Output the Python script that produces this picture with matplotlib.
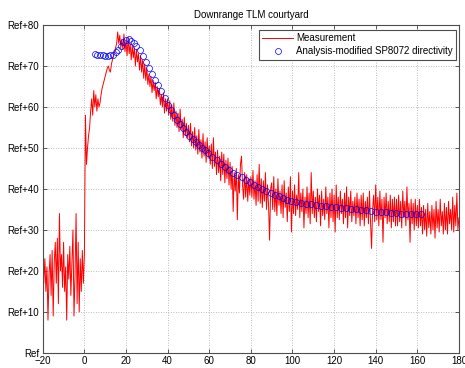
import numpy as np
import matplotlib
matplotlib.use("Agg")
import matplotlib.pyplot as plt

plt.rcParams["font.family"] = ["Liberation Sans", "DejaVu Sans"]

# ── Measurement (downrange, level above Ref), sampled every 0.5 ──────────────
meas_x0 = -20.0
meas_dx = 0.5
meas_y = [
    # -20 .. -10.5
    22, 17, 23, 15, 21, 8, 19, 24, 14, 25, 9, 22, 27, 17, 28, 12, 34, 20, 24, 16,
    # -10 .. -0.5
    27, 15, 21, 8, 24, 18, 26, 14, 22, 30, 9, 19, 34, 12, 27, 10, 23, 15, 25, 17,
    # 0 .. 9.5
    24, 58, 46, 50, 53, 55, 59, 62, 58, 64, 60, 63, 59, 62, 60, 61, 63, 64.5, 65.5, 66.5,
    # 10 .. 19.5
    67.5, 68.5, 69.5, 70, 69, 68.5, 70.5, 71.5, 72.5, 73.5,
    74.5, 75.5, 78.3, 75.5, 77.5, 74.5, 76.5, 74, 77.8, 73.5,
    # 20 .. 29.5
    76, 72.5, 77, 73, 75.5, 71.5, 75, 72, 74.5, 70,
    74, 71, 73, 69, 72.5, 68.5, 71.5, 67, 70.5, 66.5,
    # 30 .. 39.5
    69.5, 65.5, 68, 65, 67.5, 63.5, 66.5, 64, 66, 62,
    65, 62.5, 64.5, 60.5, 63, 60, 63.5, 58.5, 62, 59,
    # 40 .. 49.5
    62, 58, 61.5, 57, 60.5, 56.5, 61, 55.5, 59, 55,
    58.5, 54, 59.5, 54.5, 57, 52.5, 57.5, 53, 56, 52.5,
    # 50 .. 59.5
    55.5, 51.5, 56, 50.5, 54, 50, 55, 49.5, 53, 48.5,
    54.5, 49, 52, 47.5, 53.5, 48, 51.5, 46.5, 52.5, 47.5,
    # 60 .. 69.5
    50.5, 46, 51, 45, 52.5, 45.5, 49, 43.5, 49.5, 44,
    48, 42, 49, 43.5, 48.5, 41.5, 47, 42.5, 47.5, 41,
    # 70 .. 79.5
    46.5, 40, 45.5, 34.5, 44, 39.5, 45, 32.5, 43.5, 39,
    46, 48, 41, 37.5, 44, 38, 43.5, 37, 42.5, 38.5,
    # 80 .. 89.5
    43, 38, 44.5, 37.5, 42, 36, 43.5, 37, 46, 36.5,
    42.5, 35.5, 42, 37, 44, 35, 41, 36, 27.5, 40,
    # 90 .. 99.5
    41.5, 35, 43, 34.5, 40, 33.5, 42.5, 36, 39.5, 34,
    41, 33, 42, 35.5, 39, 32, 40.5, 34.5, 43, 29.5,
    # 100 .. 109.5
    39.5, 34, 41, 33.5, 38.5, 35, 44, 33, 39, 34.5,
    40, 30.5, 38, 34, 40.5, 33, 39, 31.5, 44, 34,
    # 110 .. 119.5
    39.5, 33, 38, 32, 40, 34.5, 38.5, 31, 39.5, 33.5,
    37.5, 32.5, 40.5, 34, 38, 30.5, 39, 33, 40, 32,
    # 120 .. 129.5
    38.5, 29.5, 41, 33, 38, 32.5, 39.5, 34, 37.5, 31.5,
    39, 33, 40.5, 30.5, 38, 33.5, 39.5, 32, 37, 33.5,
    # 130 .. 139.5
    38, 31.5, 39, 33, 37.5, 31, 38.5, 32.5, 39, 31,
    37, 33, 38, 31.5, 39.5, 32, 25.5, 35, 38.5, 32,
    # 140 .. 149.5
    41, 32.5, 38, 31, 39.5, 32.5, 37.5, 27, 38, 33,
    39, 31.5, 37, 32, 38.5, 30.5, 37.5, 32, 38, 31,
    # 150 .. 159.5
    37.5, 31, 38.5, 32, 37, 30.5, 39.5, 33, 37, 31,
    40.5, 32.5, 36.5, 27, 37.5, 31.5, 36.5, 30, 37.5, 31,
    # 160 .. 169.5
    36, 30.5, 37.5, 31, 35.5, 29, 36, 30, 35, 28.5,
    36.5, 30.5, 34.5, 29, 36, 30, 35, 28, 37, 30.5,
    # 170 .. 180
    35, 29.5, 37.5, 31, 34.5, 29, 36.5, 30, 35.5, 29,
    37, 31.5, 35, 30, 38, 29.5, 36, 31, 39, 30, 33,
]
meas_x = meas_x0 + meas_dx * np.arange(len(meas_y))

# ── Analysis-modified SP8072 directivity ─────────────────────────────────────
ana_x = [
    5, 6.25, 7.5, 8.75, 10, 11.25, 12.5, 13.75, 15, 16.25, 17.5, 18.75, 20,
    21.25, 22.5, 23.75, 25,
    26.5, 28, 29.5, 31, 32.5, 34, 35.5, 37, 38.5, 40, 41.5, 43, 44.5, 46,
    47.5, 49, 50.5, 52, 53.5, 55, 56.5, 58, 59.5,
    61.5, 63.5, 65.5, 67.5, 69.5, 71.5, 73.5, 75.5, 77.5, 79.5, 81.5, 83.5,
    85.5, 87.5, 89.5, 91.5, 93.5, 95.5, 97.5, 99.5,
    101.9, 104.3, 106.7, 109.1, 111.5, 113.9, 116.3, 118.7, 121.1, 123.5,
    125.9, 128.3, 130.7, 133.1, 135.5, 137.9, 140.3, 142.7, 145.1, 147.5,
    149.9, 152.3, 154.7, 157.1, 159.5, 161.9,
]
ana_y = [
    72.9, 72.8, 72.7, 72.6, 72.5, 72.5, 72.6, 72.8, 73.3, 74.0, 74.9, 75.8, 76.4,
    76.5, 76.2, 75.6, 74.9,
    73.8, 72.5, 71.1, 69.5, 68.0, 66.7, 65.3, 63.8, 62.3, 60.6, 59.3, 58.1, 56.9, 55.8,
    54.8, 53.9, 53.0, 52.2, 51.5, 50.7, 50.0, 49.4, 48.7,
    47.9, 47.0, 46.2, 45.4, 44.7, 44.0, 43.4, 42.8, 42.2, 41.6, 41.0, 40.5,
    40.0, 39.5, 39.0, 38.6, 38.2, 37.8, 37.4, 37.0,
    36.8, 36.6, 36.4, 36.25, 36.1, 35.95, 35.8, 35.65, 35.5, 35.4,
    35.25, 35.1, 35.0, 34.9, 34.75, 34.6, 34.5, 34.4, 34.3, 34.2,
    34.1, 34.0, 33.95, 33.9, 33.85, 33.8,
]

X_TICKS = list(range(-20, 181, 20))
Y_TICKS = list(range(0, 81, 10))
Y_LABELS = ["Ref"] + [f"Ref+{v}" for v in Y_TICKS[1:]]

# ── Plot ──────────────────────────────────────────────────────────────────────
fig = plt.figure(figsize=(4.65, 3.68), dpi=100)
ax = fig.add_axes([0.092, 0.041, 0.895, 0.891])

ax.plot(meas_x, meas_y, color="red", linewidth=0.7, label="Measurement")
ax.plot(ana_x, ana_y, linestyle="none", marker="o", markersize=4.3,
        markerfacecolor="none", markeredgecolor="blue", markeredgewidth=0.5,
        label="Analysis-modified SP8072 directivity")

ax.set_xlim(-20, 180)
ax.set_ylim(0, 80)
ax.set_xticks(X_TICKS)
ax.set_yticks(Y_TICKS)
ax.set_yticklabels(Y_LABELS)
ax.tick_params(direction="in", length=3, width=0.6, labelsize=7, pad=2.5,
               top=True, right=True, colors="0.25", labelcolor="black")
ax.grid(True, linestyle=(0, (1, 2)), color="0.65", linewidth=0.6)
for sp in ax.spines.values():
    sp.set_color("0.3")
    sp.set_linewidth(0.8)

ax.set_title("Downrange TLM courtyard", fontsize=7, pad=5)

leg = ax.legend(loc="upper right", bbox_to_anchor=(0.993, 0.985),
                borderaxespad=0, fontsize=7, frameon=True, fancybox=False,
                framealpha=1, edgecolor="0.3", handlelength=3.1,
                handletextpad=0.35, labelspacing=0.3, borderpad=0.35,
                numpoints=1)
leg.get_frame().set_linewidth(0.8)

fig.savefig("out.png", dpi=100)
plt.close()
